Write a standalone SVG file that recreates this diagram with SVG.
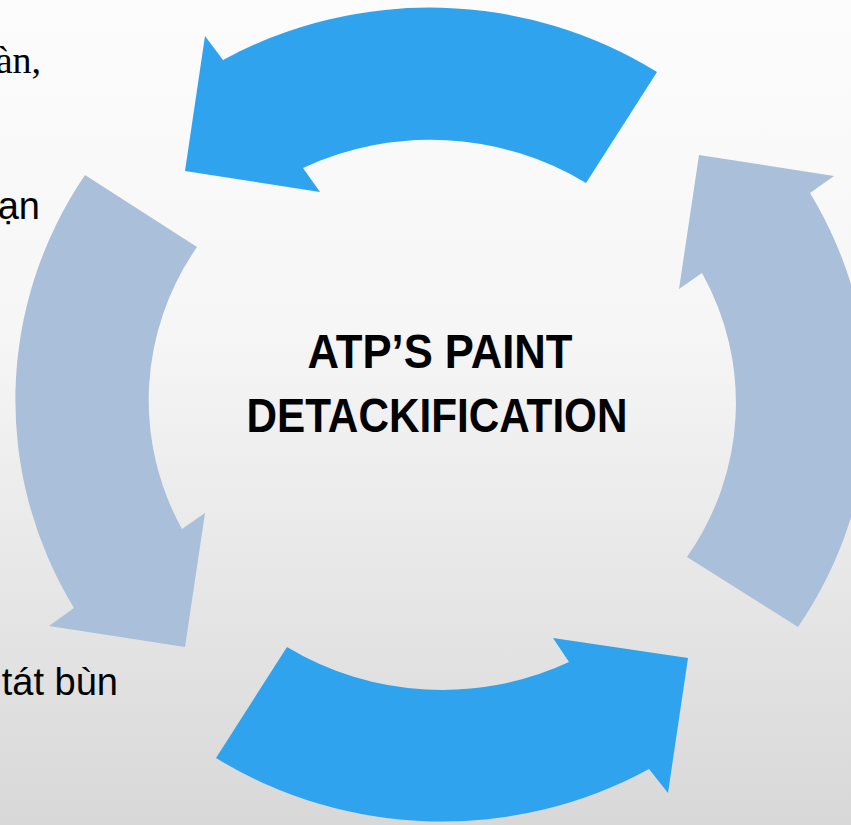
<svg xmlns="http://www.w3.org/2000/svg" width="851" height="825" viewBox="0 0 851 825">
  <defs>
    <linearGradient id="bg" x1="0" y1="0" x2="0" y2="1">
      <stop offset="0" stop-color="#fcfcfc"/>
      <stop offset="0.4" stop-color="#f6f6f6"/>
      <stop offset="1" stop-color="#d8d8d8"/>
    </linearGradient>
  </defs>
  <style>
    .blue { fill: #2fa3ee; }
    .grey { fill: #aabfd9; }
    .side { font-family: "Liberation Sans", Arial, sans-serif; font-size: 38px; fill: #000; }
    .serif { font-family: "Liberation Serif", "Times New Roman", serif; font-size: 38px; fill: #000; }
    .title { font-family: "Liberation Sans", Arial, sans-serif; font-weight: bold; font-size: 48px; fill: #000; text-anchor: middle; }
  </style>
  <rect x="0" y="0" width="851" height="825" fill="url(#bg)"/>

  <g id="side-texts">
    <text class="serif" x="41" y="73" text-anchor="end">àn,</text>
    <text class="side" x="40" y="219" text-anchor="end">ạn</text>
    <text class="side" x="118" y="695" text-anchor="end">tát bùn</text>
  </g>

  <g id="connectors">
    <path id="arrow-top" class="blue" d="M 657,72 A 422 409 0 0 0 223,60 L 205,36 L 185,171 L 320,192 L 303,168 A 290 277 0 0 1 586,183 Z"/>
    <path id="arrow-left" class="grey" d="M 85,175 A 422 409 0 0 0 74,608 L 49,626 L 185,647 L 205,513 L 182,529 A 290 277 0 0 1 197,247 Z"/>
    <path id="arrow-bottom" class="blue" d="M 216,758 A 422 409 0 0 0 649,769 L 668,793 L 688,658 L 553,638 L 569,662 A 290 277 0 0 1 287,647 Z"/>
    <path id="arrow-right" class="grey" d="M 798,627 A 422 409 0 0 0 810,193 L 834,176 L 699,155 L 679,289 L 702,273 A 290 277 0 0 1 687,557 Z"/>
  </g>

  <g id="center-node">
    <text class="title" x="440" y="368" textLength="265" lengthAdjust="spacingAndGlyphs">ATP’S PAINT</text>
    <text class="title" x="437" y="432" textLength="381" lengthAdjust="spacingAndGlyphs">DETACKIFICATION</text>
  </g>
</svg>
